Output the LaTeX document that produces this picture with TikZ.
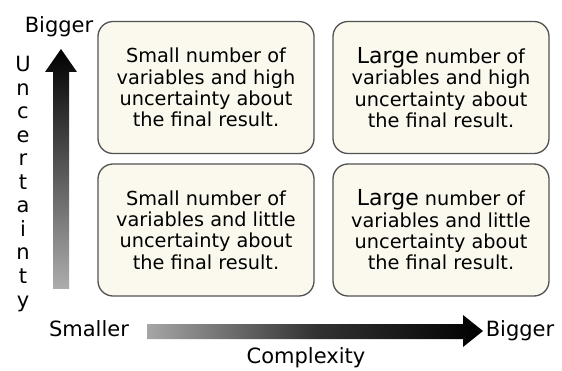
\documentclass[tikz,border=0pt]{standalone}
\usepackage{fontspec}
\setmainfont{DejaVu Sans}
\definecolor{cream}{HTML}{FBF9EE}
\tikzset{
  quadbox/.style={draw=black!68, line width=1.3pt, rounded corners=15pt, fill=cream,
    minimum width=216pt, minimum height=132pt, align=center, inner sep=0pt,
    font=\fontsize{19.3}{21.3}\selectfont},
  axislbl/.style={font=\fontsize{21}{22}\selectfont, inner sep=0pt}
}
\newcommand{\bigword}[1]{{\fontsize{22}{21.3}\selectfont #1}}
\begin{document}
\begin{tikzpicture}[x=1pt, y=-1pt, line join=round]
	\useasboundingbox (0,0) rectangle (562,371);
	% four quadrants
	\node[quadbox] (hsmall) at (206,87.5) {Small number of\\variables and high\\uncertainty about\\the final result.};
	\node[quadbox] (hlarge) at (441,87.5) {\bigword{Large} number of\\variables and high\\uncertainty about\\the final result.};
	\node[quadbox] (lsmall) at (206,230) {Small number of\\variables and little\\uncertainty about\\the final result.};
	\node[quadbox] (llarge) at (441,230) {\bigword{Large} number of\\variables and little\\uncertainty about\\the final result.};
	% axes
	\shade[top color=black, bottom color=black!32] (53,289) -- (53,72) -- (45,72) -- (61,49) -- (77,72) -- (69,72) -- (69,289) -- cycle;
	\shade[left color=black!35, right color=black, middle color=black!80] (147,324) -- (463,324) -- (463,315) -- (483,331) -- (463,347) -- (463,339) -- (147,339) -- cycle;
	% labels
	\node[axislbl] (ybig) at (59,27) {Bigger};
	\foreach \ch [count=\i from 0] in {U,n,c,e,r,t,a,i,n,t,y}
		\node[axislbl, anchor=base] (u\i) at (23,72+23.5*\i) {\ch};
	\node[axislbl] (xsmall) at (89,329) {Smaller};
	\node[axislbl] (xbig) at (520,331) {Bigger};
	\node[axislbl] (xlbl) at (306,358) {Complexity};
\end{tikzpicture}
\end{document}
